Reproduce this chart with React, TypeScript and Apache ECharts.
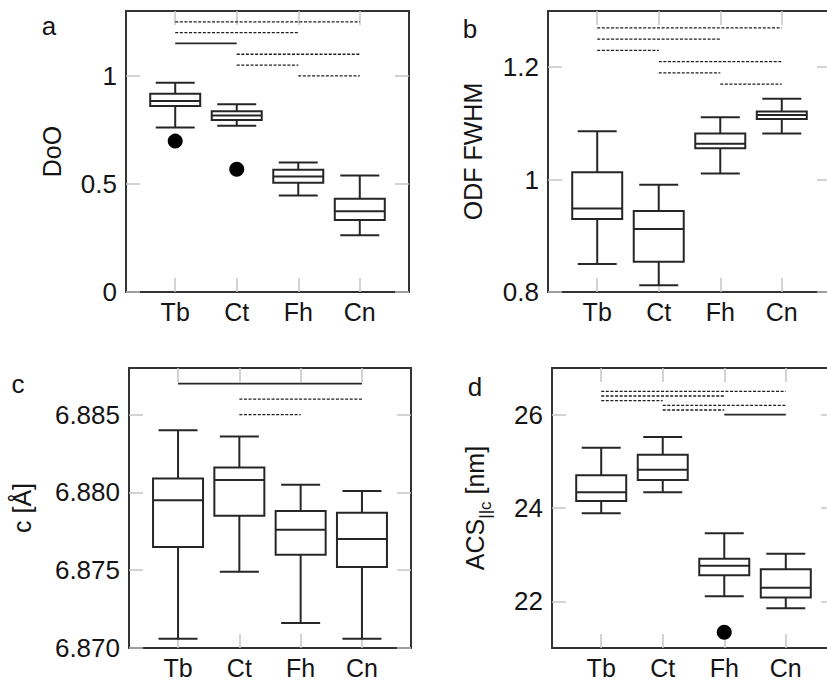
import React, { useEffect, useRef } from 'react';
import * as echarts from 'echarts';

const categories = ['Tb', 'Ct', 'Fh', 'Cn'];

// box statistics per category: [min, Q1, median, Q3, max]
const dooBoxes = [
  [0.761, 0.861, 0.884, 0.917, 0.968],
  [0.769, 0.796, 0.816, 0.836, 0.869],
  [0.446, 0.506, 0.534, 0.566, 0.599],
  [0.262, 0.333, 0.373, 0.431, 0.539],
];
const dooOutliers = [[0, 0.698], [1, 0.568]];
const dooSig = [
  [0, 3, 1.25, 0],
  [0, 2, 1.2, 0],
  [0, 1, 1.15, 1],
  [1, 3, 1.1, 0],
  [1, 2, 1.05, 0],
  [2, 3, 1.0, 0],
];
const dooTicks = [0, 0.5, 1];

const odfBoxes = [
  [0.85, 0.93, 0.9485, 1.013, 1.086],
  [0.812, 0.854, 0.912, 0.944, 0.991],
  [1.011, 1.056, 1.064, 1.082, 1.111],
  [1.082, 1.108, 1.115, 1.121, 1.144],
];
const odfOutliers: number[][] = [];
const odfSig = [
  [0, 3, 1.27, 0],
  [0, 2, 1.25, 0],
  [0, 1, 1.23, 0],
  [1, 3, 1.21, 0],
  [1, 2, 1.19, 0],
  [2, 3, 1.17, 0],
];
const odfTicks = [0.8, 1, 1.2];

const cBoxes = [
  [6.8706, 6.8765, 6.8795, 6.8809, 6.884],
  [6.8749, 6.8785, 6.8808, 6.8816, 6.8836],
  [6.8716, 6.876, 6.8776, 6.8788, 6.8805],
  [6.8706, 6.8752, 6.877, 6.8787, 6.8801],
];
const cOutliers: number[][] = [];
const cSig = [
  [0, 3, 6.887, 1],
  [1, 3, 6.886, 0],
  [1, 2, 6.885, 0],
];
const cTicks = [6.87, 6.875, 6.88, 6.885];

const acsBoxes = [
  [23.89, 24.15, 24.34, 24.7, 25.29],
  [24.34, 24.6, 24.82, 25.14, 25.52],
  [22.11, 22.56, 22.76, 22.91, 23.46],
  [21.85, 22.08, 22.29, 22.69, 23.02],
];
const acsOutliers = [[2, 21.34]];
const acsSig = [
  [0, 3, 26.5, 0],
  [0, 2, 26.4, 0],
  [0, 1, 26.3, 0],
  [1, 3, 26.2, 0],
  [1, 2, 26.1, 0],
  [2, 3, 26.0, 1],
];
const acsTicks = [22, 24, 26];

const FONT = '"Liberation Sans", Arial, Helvetica, sans-serif';
const INK = '#262626';
const TEXT = '#141414';

function boxRender(params: any, api: any) {
  const x = api.value(0);
  const lo = api.coord([x, api.value(1)]);
  const q1 = api.coord([x, api.value(2)]);
  const md = api.coord([x, api.value(3)]);
  const q3 = api.coord([x, api.value(4)]);
  const hi = api.coord([x, api.value(5)]);
  const cx = lo[0];
  const hw = 25;
  const cw = 19.5;
  const st = { stroke: INK, lineWidth: 2, fill: null };
  return {
    type: 'group',
    children: [
      { type: 'line', shape: { x1: cx, y1: hi[1], x2: cx, y2: q3[1] }, style: st },
      { type: 'line', shape: { x1: cx - cw, y1: hi[1], x2: cx + cw, y2: hi[1] }, style: st },
      { type: 'line', shape: { x1: cx, y1: q1[1], x2: cx, y2: lo[1] }, style: st },
      { type: 'line', shape: { x1: cx - cw, y1: lo[1], x2: cx + cw, y2: lo[1] }, style: st },
      {
        type: 'rect',
        shape: { x: cx - hw, y: q3[1], width: 2 * hw, height: q1[1] - q3[1] },
        style: { stroke: INK, lineWidth: 2, fill: '#ffffff' },
      },
      { type: 'line', shape: { x1: cx - hw, y1: md[1], x2: cx + hw, y2: md[1] }, style: st },
    ],
  };
}

function sigRender(params: any, api: any) {
  const y = api.value(2);
  const a = api.coord([api.value(0), y]);
  const b = api.coord([api.value(1), y]);
  const solid = api.value(3) === 1;
  return {
    type: 'line',
    shape: { x1: a[0], y1: a[1], x2: b[0], y2: b[1] },
    style: {
      stroke: solid ? INK : '#1e1e1e',
      lineWidth: solid ? 1.8 : 1.3,
      lineDash: solid ? null : [3, 1.6],
    },
  };
}

type Panel = {
  letter: string;
  letterX: number;
  letterY: number;
  name: string;
  rich?: any;
  nameGap: number;
  left: number;
  top: number;
  width: number;
  height: number;
  yMin: number;
  yMax: number;
  ticks: number[];
  decimals: number | null;
  boxes: number[][];
  outliers: number[][];
  sig: number[][];
};

const panels: Panel[] = [
  {
    letter: 'a', letterX: 49, letterY: 26, name: 'DoO', nameGap: 62,
    left: 126, top: 11, width: 283, height: 281,
    yMin: 0, yMax: 1.3, ticks: dooTicks, decimals: null,
    boxes: dooBoxes, outliers: dooOutliers, sig: dooSig,
  },
  {
    letter: 'b', letterX: 470, letterY: 29, name: 'ODF FWHM', nameGap: 63,
    left: 548, top: 11, width: 283, height: 281,
    yMin: 0.8, yMax: 1.3, ticks: odfTicks, decimals: null,
    boxes: odfBoxes, outliers: odfOutliers, sig: odfSig,
  },
  {
    letter: 'c', letterX: 18, letterY: 384, name: 'c [Å]', nameGap: 95,
    left: 129, top: 368, width: 282, height: 281,
    yMin: 6.87, yMax: 6.888, ticks: cTicks, decimals: 3,
    boxes: cBoxes, outliers: cOutliers, sig: cSig,
  },
  {
    letter: 'd', letterX: 475, letterY: 387,
    name: '{m|ACS}{s|||c}{t| [nm]}',
    rich: {
      m: { fontSize: 25, fontFamily: FONT, color: TEXT, padding: [0, 0, 7, 0], verticalAlign: 'bottom' },
      s: { fontSize: 17, fontFamily: FONT, color: TEXT, verticalAlign: 'bottom' },
      t: { fontSize: 25, fontFamily: FONT, color: TEXT, padding: [0, 0, 7, 0], verticalAlign: 'bottom' },
    },
    nameGap: 58,
    left: 552, top: 368, width: 283, height: 281,
    yMin: 21, yMax: 27, ticks: acsTicks, decimals: null,
    boxes: acsBoxes, outliers: acsOutliers, sig: acsSig,
  },
];

function fmtY(v: number, decimals: number | null) {
  if (decimals !== null) return v.toFixed(decimals);
  return String(Number(v.toFixed(6)));
}

function buildOption() {
  const grid: any[] = [];
  const xAxis: any[] = [];
  const yAxis: any[] = [];
  const series: any[] = [];
  const graphic: any[] = [];
  const catValues = categories.map((_, i) => i + 1);
  const tickStyle = { show: true, inside: true, length: 14, lineStyle: { color: '#c4c4c4', width: 1.5 } };
  const lineStyle = { show: true, onZero: false, lineStyle: { color: '#333333', width: 2 } };

  panels.forEach((p, k) => {
    grid.push({ left: p.left, top: p.top, width: p.width, height: p.height, containLabel: false });
    xAxis.push({
      type: 'value', gridIndex: k, position: 'bottom', min: 0.2, max: 4.8,
      axisLine: lineStyle,
      axisTick: { ...tickStyle, customValues: catValues },
      axisLabel: {
        show: true, customValues: catValues, margin: 7,
        fontSize: 25, fontFamily: FONT, color: TEXT,
        formatter: (v: number) => categories[Math.round(v) - 1] ?? '',
      },
      splitLine: { show: false },
    });
    xAxis.push({
      type: 'value', gridIndex: k, position: 'top', min: 0.2, max: 4.8,
      axisLine: lineStyle,
      axisTick: { ...tickStyle, customValues: catValues },
      axisLabel: { show: false },
      splitLine: { show: false },
    });
    yAxis.push({
      type: 'value', gridIndex: k, position: 'left', min: p.yMin, max: p.yMax,
      axisLine: lineStyle,
      axisTick: { ...tickStyle, customValues: p.ticks },
      axisLabel: {
        show: true, customValues: p.ticks, margin: 9,
        fontSize: 26, fontFamily: FONT, color: TEXT,
        formatter: (v: number) => fmtY(v, p.decimals),
      },
      splitLine: { show: false },
      name: p.name,
      nameLocation: 'middle',
      nameRotate: 90,
      nameGap: p.nameGap,
      nameTextStyle: p.rich
        ? { rich: p.rich, fontFamily: FONT, color: TEXT, fontSize: 25 }
        : { fontSize: 25, fontFamily: FONT, color: TEXT },
    });
    yAxis.push({
      type: 'value', gridIndex: k, position: 'right', min: p.yMin, max: p.yMax,
      axisLine: lineStyle,
      axisTick: { ...tickStyle, customValues: p.ticks },
      axisLabel: { show: false },
      splitLine: { show: false },
    });

    const xi = 2 * k;
    const yi = 2 * k;
    series.push({
      type: 'custom', name: `sig-${p.letter}`, xAxisIndex: xi, yAxisIndex: yi,
      renderItem: sigRender, encode: { x: [0, 1], y: 2 },
      data: p.sig.map((s) => [s[0] + 1, s[1] + 1, s[2], s[3]]),
      silent: true, z: 3,
    });
    series.push({
      type: 'custom', name: `box-${p.letter}`, xAxisIndex: xi, yAxisIndex: yi,
      renderItem: boxRender, encode: { x: 0, y: [1, 2, 3, 4, 5] },
      data: p.boxes.map((b, i) => [i + 1, ...b]),
      silent: true, z: 4,
    });
    if (p.outliers.length) {
      series.push({
        type: 'scatter', name: `out-${p.letter}`, xAxisIndex: xi, yAxisIndex: yi,
        symbol: 'circle', symbolSize: 15,
        itemStyle: { color: '#000000', opacity: 1 },
        data: p.outliers.map((o) => [o[0] + 1, o[1]]),
        silent: true, z: 5,
      });
    }
    graphic.push({
      type: 'text', x: p.letterX, y: p.letterY,
      style: {
        text: p.letter, fontSize: 26, fontFamily: FONT, fill: TEXT,
        textAlign: 'center', textVerticalAlign: 'middle',
      },
    });
  });

  return {
    animation: false,
    backgroundColor: '#ffffff',
    grid, xAxis, yAxis, series, graphic,
  };
}

export default function App() {
  const ref = useRef<HTMLDivElement>(null);
  useEffect(() => {
    if (!ref.current) return;
    const chart = echarts.init(ref.current, undefined, { renderer: 'svg' });
    chart.setOption(buildOption() as any);
    return () => chart.dispose();
  }, []);
  return (
    <div
      ref={ref}
      style={{ position: 'fixed', left: 0, top: 0, width: 840, height: 680, background: '#ffffff' }}
    />
  );
}
